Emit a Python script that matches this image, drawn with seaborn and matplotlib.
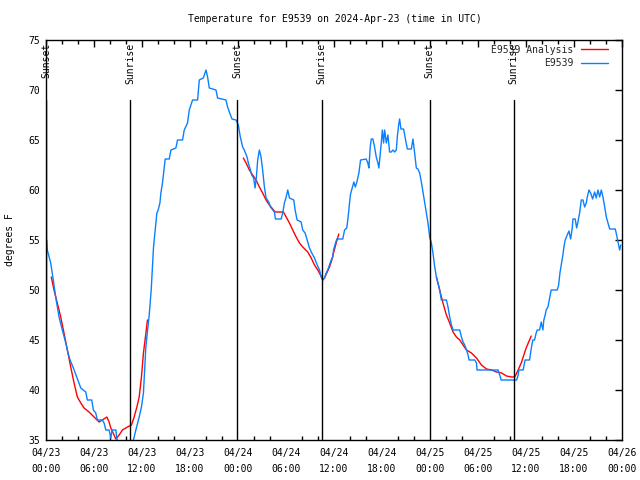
import numpy as np
import pandas as pd
import matplotlib
matplotlib.use("Agg")
import matplotlib.pyplot as plt
import matplotlib.dates as mdates
from matplotlib.lines import Line2D
from matplotlib.ticker import FixedLocator
import seaborn as sns

# ---------------- data ----------------
start = "2024-04-23 00:00"
obs_hours = [0.09, 0.16, 0.59, 0.91, 1.21, 1.63, 2.04, 2.47, 2.75, 3.01, 3.42, 3.84, 4.35, 4.97, 5.17,
             5.72, 5.92, 6.22, 6.42, 7.05, 7.26, 7.48, 7.89, 8.10, 8.26, 8.73, 8.85, 9.02, 10.0, 10.93,
             11.23, 11.65, 11.93, 12.18, 12.48, 12.90, 13.15, 13.31, 13.44, 13.61, 13.74, 13.86, 14.02,
             14.24, 14.36, 14.56, 14.78, 14.90, 15.40, 15.62, 16.24, 16.44, 17.07, 17.28, 17.69, 17.91,
             18.32, 18.95, 19.16, 19.66, 20.00, 20.20, 20.41, 21.25, 21.45, 22.50, 22.70, 22.92, 23.25,
             23.75, 24.04, 24.29, 24.58, 24.79, 25.13, 25.29, 25.55, 25.71, 25.96, 26.13, 26.30, 26.46,
             26.67, 26.88, 27.08, 27.30, 27.51, 27.84, 28.05, 28.34, 28.55, 28.68, 29.39, 29.59, 29.80,
             30.02, 30.22, 30.43, 30.97, 31.14, 31.39, 31.89, 32.09, 32.39, 32.65, 32.93, 33.22, 33.56,
             33.90, 34.19, 34.40, 34.60, 34.81, 35.02, 35.22, 35.44, 35.65, 35.85, 35.94, 36.19, 36.35,
             37.10, 37.32, 37.60, 37.82, 37.94, 38.07, 38.28, 38.48, 38.66, 38.86, 39.11, 39.32, 40.03,
             40.23, 40.36, 40.53, 40.66, 40.86, 41.07, 41.28, 41.49, 41.61, 41.79, 41.91, 42.04, 42.20,
             42.33, 42.54, 42.74, 42.95, 43.16, 43.36, 43.58, 43.79, 43.91, 44.08, 44.20, 44.37, 44.70,
             44.95, 45.17, 45.67, 45.87, 46.08, 46.29, 46.49, 46.71, 46.92, 47.12, 47.33, 47.55, 47.75,
             47.96, 48.17, 48.37, 48.59, 48.80, 49.00, 49.21, 49.42, 50.05, 50.25, 50.46, 50.68, 50.88,
             51.72, 51.93, 52.13, 52.34, 52.56, 52.76, 52.88, 53.60, 53.81, 53.88, 56.51, 56.72, 56.89,
             58.82, 59.02, 59.10, 59.64, 59.82, 59.89, 60.44, 60.57, 60.73, 60.86, 61.07, 61.27, 61.40,
             61.70, 61.90, 62.11, 62.23, 62.40, 62.52, 62.74, 62.95, 63.15, 63.90, 64.08, 64.24, 64.40,
             64.61, 64.74, 64.90, 65.15, 65.37, 65.58, 65.78, 65.87, 66.15, 66.33, 66.49, 66.70, 66.91,
             67.12, 67.33, 67.53, 67.66, 67.87, 68.08, 68.33, 68.58, 68.78, 69.00, 69.21, 69.41, 69.62,
             69.84, 70.04, 70.25, 70.46, 71.16, 71.38, 71.50, 71.71, 71.85]
obs_temp = [55.0, 54.0, 52.7, 51.0, 49.3, 47.3, 46.0, 44.7, 43.7, 43.0, 42.2, 41.3, 40.2, 39.8, 39.0,
            39.0, 38.0, 37.7, 37.0, 37.0, 36.7, 36.0, 36.0, 35.2, 36.0, 36.0, 35.2, 34.5, 34.0, 35.0,
            36.0, 37.3, 38.3, 39.7, 44.3, 47.5, 50.0, 52.3, 54.3, 55.7, 56.7, 57.7, 58.0,
            58.7, 59.7, 60.7, 62.3, 63.1, 63.1, 64.0, 64.2, 65.0, 65.0, 66.0, 66.7, 68.0,
            69.0, 69.0, 71.0, 71.2, 72.0, 71.3, 70.2, 70.0, 69.2, 69.0, 68.3, 67.8, 67.1,
            67.0, 66.5, 65.3, 64.3, 64.0, 63.3, 62.7, 62.0, 61.5, 61.2, 60.2, 61.3, 63.0,
            64.0, 63.3, 62.0, 60.3, 59.2, 58.8, 58.3, 58.0, 57.8, 57.1, 57.1, 57.7, 58.7,
            59.3, 60.0, 59.2, 59.0, 58.0, 57.0, 56.8, 56.0, 55.7, 55.0, 54.2, 53.7, 53.2,
            52.5, 52.0, 51.3, 51.0, 51.2, 51.7, 52.0, 52.5, 53.0, 53.3, 54.0, 54.7, 55.1,
            55.1, 56.0, 56.2, 57.7, 58.7, 59.6, 60.2, 60.8, 60.3, 60.8, 61.7, 63.0, 63.1,
            62.7, 62.2, 64.3, 65.1, 65.1, 64.3, 63.3, 62.7, 62.2, 63.7, 64.7, 66.0, 64.7,
            66.0, 64.7, 65.5, 63.8, 63.8, 64.0, 63.8, 64.0, 65.3, 66.5, 67.1, 66.1, 66.1,
            65.0, 64.1, 64.1, 65.1, 63.7, 62.2, 62.1, 61.7, 60.8, 59.8, 58.8, 57.7, 56.7,
            55.3, 54.7, 53.7, 52.3, 51.3, 50.7, 50.0, 49.0, 49.0, 48.3, 47.3, 46.5, 46.0,
            46.0, 45.3, 44.8, 44.5, 44.0, 43.5, 43.0, 43.0, 42.7, 42.0, 42.0, 41.5, 41.0,
            41.0, 41.5, 42.0, 42.0, 42.7, 43.0, 43.0, 43.7, 44.5, 45.0, 45.0, 45.7, 46.0,
            46.0, 46.8, 46.0, 47.0, 47.5, 48.0, 48.3, 49.2, 50.0, 50.0, 50.5, 51.7, 52.5,
            53.5, 54.3, 55.0, 55.5, 55.9, 55.1, 56.2, 57.1, 57.1, 56.2, 56.8, 57.7, 59.0,
            59.0, 58.3, 58.7, 59.3, 60.0, 59.7, 59.1, 59.8, 59.2, 60.0, 59.3, 60.0, 59.3,
            58.3, 57.3, 56.7, 56.1, 56.1, 55.3, 54.8, 54.0, 54.5]

ana1_hours = [0.66, 1.00, 1.41, 1.84, 2.25, 2.67, 3.09, 3.51, 3.92, 4.35, 4.76, 5.38, 6.01, 6.64, 7.05,
              7.60, 7.89, 8.10, 8.39, 8.73, 9.14, 9.55, 10.18, 10.68, 11.02, 11.36, 11.65, 11.93, 12.18,
              12.46, 12.68]
ana1_temp = [51.3, 50.0, 48.7, 47.3, 45.7, 44.0, 42.3, 40.7, 39.3, 38.7, 38.2, 37.8, 37.3, 36.8, 37.0,
             37.3, 36.8, 36.2, 35.7, 35.1, 35.5, 36.0, 36.3, 36.5, 37.3, 38.3, 39.3, 41.3, 43.7,
             45.5, 47.0]
ana2_hours = [24.67, 25.01, 25.42, 25.83, 26.26, 26.67, 27.08, 27.51, 27.92, 28.34, 28.64, 29.68, 30.02,
              30.43, 30.84, 31.27, 31.68, 32.09, 32.72, 33.15, 33.56, 33.97, 34.31, 34.60, 34.81, 35.15,
              35.44, 35.73, 35.94, 36.31, 36.60]
ana2_temp = [63.2, 62.7, 62.0, 61.5, 61.0, 60.3, 59.7, 59.0, 58.5, 58.1, 57.8, 57.8, 57.3,
             56.7, 56.0, 55.3, 54.7, 54.3, 53.8, 53.2, 52.5, 52.0, 51.5, 51.0, 51.2, 51.8,
             52.3, 53.0, 53.7, 54.8, 55.6]
ana3_hours = [48.80, 49.21, 49.62, 50.05, 50.46, 50.88, 51.30, 51.72, 52.13, 52.56, 53.18, 53.81, 54.43,
              55.06, 55.69, 56.31, 56.94, 57.56, 58.19, 58.60, 59.02, 59.45, 59.77, 60.02, 60.65]
ana3_temp = [51.3, 50.0, 48.7, 47.5, 46.7, 45.8, 45.3, 45.0, 44.5, 44.0, 43.7, 43.2, 42.5,
             42.1, 42.0, 41.8, 41.7, 41.4, 41.3, 41.3, 42.0, 42.8, 43.6, 44.2, 45.4]

event_names = ["Sunset", "Sunrise", "Sunset", "Sunrise", "Sunset", "Sunrise"]
event_times = ["2024-04-23 00:00", "2024-04-23 10:31", "2024-04-23 23:55",
               "2024-04-24 10:27", "2024-04-24 23:57", "2024-04-25 10:29"]

tick_times = ["2024-04-23 00:00", "2024-04-23 06:00", "2024-04-23 12:00", "2024-04-23 18:00",
              "2024-04-24 00:00", "2024-04-24 06:00", "2024-04-24 12:00", "2024-04-24 18:00",
              "2024-04-25 00:00", "2024-04-25 06:00", "2024-04-25 12:00", "2024-04-25 18:00",
              "2024-04-26 00:00"]
tick_labels = ["04/23\n00:00", "04/23\n06:00", "04/23\n12:00", "04/23\n18:00",
               "04/24\n00:00", "04/24\n06:00", "04/24\n12:00", "04/24\n18:00",
               "04/25\n00:00", "04/25\n06:00", "04/25\n12:00", "04/25\n18:00",
               "04/26\n00:00"]
y_ticks = [35, 40, 45, 50, 55, 60, 65, 70, 75]

# ---------------- build frames ----------------
t0 = pd.Timestamp(start)
def to_time(h):
    return t0 + pd.to_timedelta(np.array(h), unit="h")

obs = pd.DataFrame({"time": to_time(obs_hours), "temp": obs_temp})
ana = pd.concat([
    pd.DataFrame({"time": to_time(ana1_hours), "temp": ana1_temp, "seg": 1}),
    pd.DataFrame({"time": to_time(ana2_hours), "temp": ana2_temp, "seg": 2}),
    pd.DataFrame({"time": to_time(ana3_hours), "temp": ana3_temp, "seg": 3}),
], ignore_index=True)

# ---------------- style ----------------
sns.set_theme(style="white")
plt.rcParams["font.family"] = ["DejaVu Sans Mono"]
plt.rcParams["axes.edgecolor"] = "black"
plt.rcParams["axes.linewidth"] = 1.0

FS = 7
RED = "#ff0000"
BLUE = "#0a80ff"

fig = plt.figure(figsize=(6.4, 4.8), dpi=100)
ax = fig.add_axes([46 / 640, 40 / 480, 576 / 640, 400 / 480])

sns.lineplot(data=ana, x="time", y="temp", units="seg", estimator=None, sort=False,
             color=RED, linewidth=1.0, ax=ax, legend=False)
sns.lineplot(data=obs, x="time", y="temp", estimator=None, sort=False,
             color=BLUE, linewidth=1.0, ax=ax, legend=False)

xmin = pd.Timestamp(tick_times[0])
xmax = pd.Timestamp(tick_times[-1])
ax.set_xlim(xmin, xmax)
ax.set_ylim(35, 75)

# sunrise / sunset markers
for name, et in zip(event_names, event_times):
    t = pd.Timestamp(et)
    ax.axvline(t, ymin=0, ymax=0.85, color="black", linewidth=1.0)
    ax.text(t, 74.7, name, rotation=90, ha="center", va="top", fontsize=FS,
            color="black")

# ticks
ax.set_xticks([pd.Timestamp(t) for t in tick_times])
ax.set_xticklabels(tick_labels)
minor = pd.date_range(xmin, xmax, freq="2h")
ax.xaxis.set_minor_locator(FixedLocator(mdates.date2num(minor.to_pydatetime())))
ax.set_yticks(y_ticks)
ax.set_yticklabels([str(v) for v in y_ticks])
ax.tick_params(axis="both", which="major", direction="in", length=5, width=1,
               top=True, right=True, labelsize=FS, color="black", labelcolor="black")
ax.tick_params(axis="x", which="major", pad=6)
ax.tick_params(axis="y", which="major", pad=4)
ax.tick_params(axis="x", which="minor", direction="in", length=3, width=1,
               top=True, bottom=True, color="black")
for lbl in ax.get_xticklabels():
    lbl.set_linespacing(1.75)

ax.set_xlabel("")
ax.set_ylabel("degrees F", fontsize=FS, color="black")
ax.yaxis.set_label_coords(-31 / 576, 0.5)
for s in ax.spines.values():
    s.set_visible(True)
    s.set_color("black")

fig.text(0.523, 0.96, "Temperature for E9539 on 2024-Apr-23 (time in UTC)",
         ha="center", va="center", fontsize=FS, color="black")

handles = [Line2D([], [], color=RED, linewidth=1.0), Line2D([], [], color=BLUE, linewidth=1.0)]
leg = ax.legend(handles, ["E9539 Analysis", "E9539"], loc="upper right",
                bbox_to_anchor=(1 - 9 / 576, 1.0), frameon=False,
                markerfirst=False, fontsize=FS, handlelength=2.8, handletextpad=0.75,
                labelspacing=0.35, borderaxespad=0.2, borderpad=0.3)
for txt in leg.get_texts():
    txt.set_ha("right")
leg._legend_box.align = "right"

fig.savefig("out.png", dpi=100)
